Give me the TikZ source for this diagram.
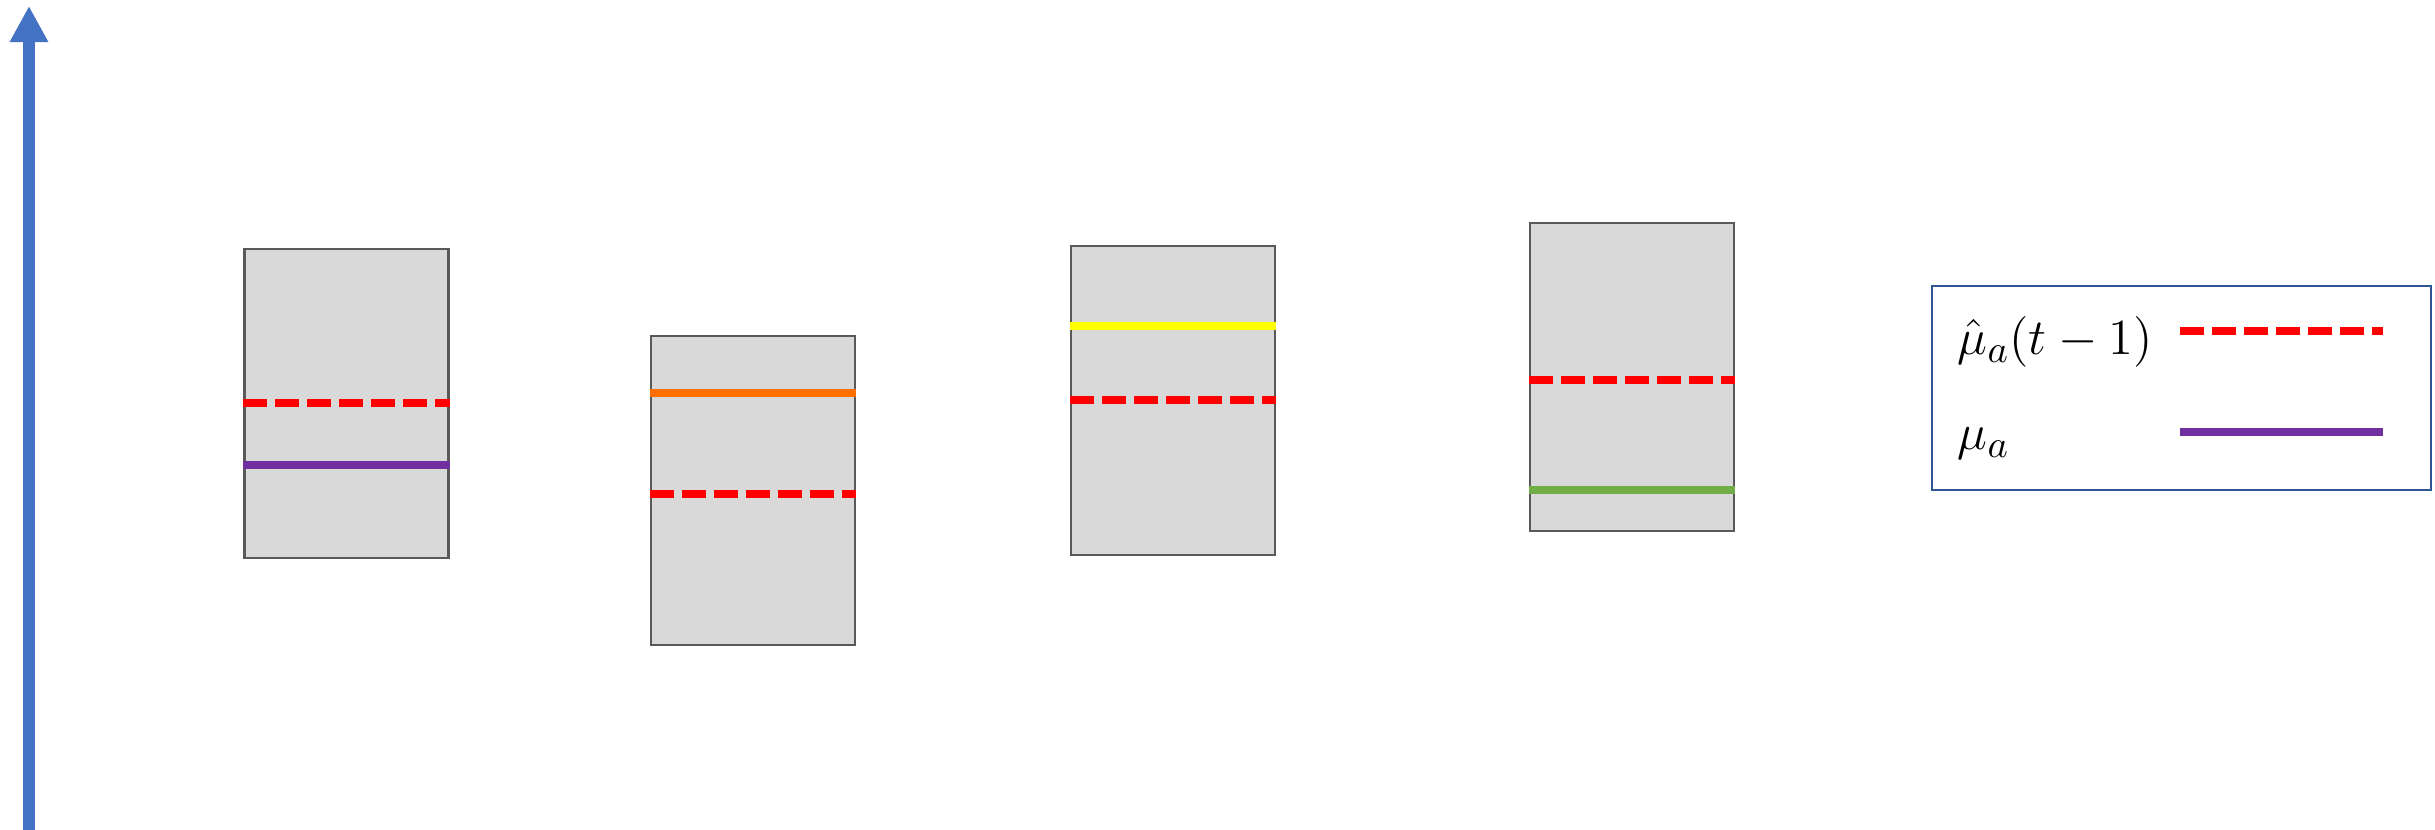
\documentclass[tikz,border=0pt]{standalone}
\usetikzlibrary{arrows.meta}
\definecolor{boxfill}{HTML}{D9D9D9}
\definecolor{boxline}{HTML}{595959}
\definecolor{axisblue}{HTML}{4472C4}
\definecolor{legblue}{HTML}{2F5597}
\definecolor{mured}{HTML}{FF0000}
\definecolor{mupurple}{HTML}{7030A0}
\definecolor{muorange}{HTML}{FF6F00}
\definecolor{muyellow}{HTML}{FFFF00}
\definecolor{mugreen}{HTML}{70AD47}
\begin{document}
\begin{tikzpicture}[x=0.01cm,y=0.01cm,
  armbox/.style={draw=boxline, fill=boxfill, line width=0.7pt, minimum width=2.04cm, minimum height=3.09cm, inner sep=0pt},
  estline/.style={draw=mured, line width=2.3pt, dash pattern=on 6.8pt off 2.3pt},
  trueline/.style={line width=2.3pt},
  legtext/.style={anchor=base west, inner sep=0pt, font=\fontsize{15.5}{18}\selectfont}]
\useasboundingbox (0,0) rectangle (2435,830);
% axis
\coordinate (ax0) at (29,0);
\coordinate (ax1) at (29,824);
\draw[axisblue, line width=3.4pt, -{Triangle[length=0.36cm,width=0.36cm]}] (ax0) -- (ax1);
% boxes
\node[armbox] (b1) at (346.5,426.5) {};
\node[armbox] (b2) at (753,339.5) {};
\node[armbox] (b3) at (1173,429.5) {};
\node[armbox, minimum height=3.08cm] (b4) at (1632,453) {};
% lines in boxes
\draw[estline] (b1.west |- 0,426.7) -- (b1.east |- 0,426.7);
\draw[trueline, mupurple] (b1.west |- 0,365) -- (b1.east |- 0,365);
\draw[trueline, muorange] (b2.west |- 0,436.7) -- (b2.east |- 0,436.7);
\draw[estline] (b2.west |- 0,336.3) -- (b2.east |- 0,336.3);
\draw[trueline, muyellow] (b3.west |- 0,503.7) -- (b3.east |- 0,503.7);
\draw[estline] (b3.west |- 0,429.7) -- (b3.east |- 0,429.7);
\draw[estline] (b4.west |- 0,450) -- (b4.east |- 0,450);
\draw[trueline, mugreen] (b4.west |- 0,339.7) -- (b4.east |- 0,339.7);
% legend
\node[draw=legblue, line width=0.7pt, minimum width=4.99cm, minimum height=2.04cm, inner sep=0pt] (leg) at (2181.5,442) {};
\node[legtext] (l1) at (1957,475) {$\hat{\mu}_a(t-1)$};
\node[legtext] (l2) at (1957,380) {$\mu_a$};
\coordinate (r0) at (2180,499);
\coordinate (r1) at (2383,499);
\coordinate (p0) at (2180,397.7);
\coordinate (p1) at (2383,397.7);
\draw[estline] (r0) -- (r1);
\draw[trueline, mupurple] (p0) -- (p1);
\end{tikzpicture}
\end{document}
